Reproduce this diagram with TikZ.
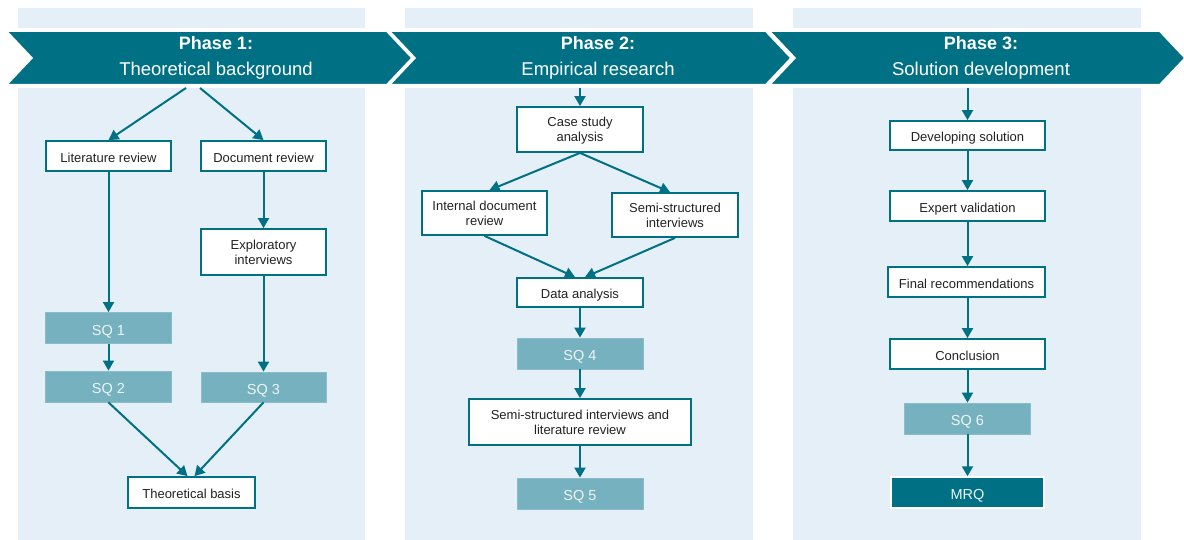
\documentclass[tikz,border=0pt]{standalone}
\usepackage{fontspec}
\setmainfont{Liberation Sans}
\usetikzlibrary{arrows.meta}

\definecolor{phaseteal}{HTML}{007084}
\definecolor{panelblue}{HTML}{E4EFF7}
\definecolor{sqfill}{HTML}{75B1BF}
\definecolor{sqtext}{HTML}{EEF5F7}
\definecolor{inktext}{HTML}{222222}

\begin{document}
\begin{tikzpicture}[x=1pt,y=-1pt,
  flow/.style={draw=phaseteal, line width=2pt, -{Triangle[length=10pt,width=11pt]}},
  stepbox/.style={draw=phaseteal, line width=1.8pt, fill=white, inner sep=0pt,
    align=center, font=\fontsize{13}{15}\selectfont, text=inktext, text depth=0pt},
  oneline/.style={text height=12.5pt, text depth=0pt},
  sqbox/.style={fill=sqfill, draw=sqfill!85!white, line width=0.8pt, inner sep=0pt,
    font=\fontsize{14.5}{17}\selectfont, text=sqtext, text height=14pt, text depth=0pt},
  mrqbox/.style={fill=phaseteal, draw=white, line width=1.5pt, inner sep=0pt,
    font=\fontsize{14.5}{17}\selectfont, text=sqtext, text height=14pt, text depth=0pt},
  chevron/.style={fill=phaseteal, draw=white, line width=3pt, line join=miter},
  headbold/.style={anchor=base, text=white, font=\fontsize{18}{20}\selectfont\bfseries},
  headreg/.style={anchor=base, text=white, font=\fontsize{18.5}{20}\selectfont},
]
\useasboundingbox (0,0) rectangle (1184,540);

% phase panels (above and below the chevron band)
\foreach \xa/\xb in {18/365, 405/753, 793/1141} {
  \fill[panelblue] (\xa,8) rectangle (\xb,28);
  \fill[panelblue] (\xa,88) rectangle (\xb,540);
}

% chevron band
\draw[chevron] (5,30.5) -- (387,30.5) -- (413,58) -- (387,85.5) -- (5,85.5) -- (31,58) -- cycle;
\draw[chevron] (388,30.5) -- (766,30.5) -- (792,58) -- (766,85.5) -- (388,85.5) -- (414,58) -- cycle;
\draw[chevron] (768,30.5) -- (1160,30.5) -- (1186,58) -- (1160,85.5) -- (768,85.5) -- (794,58) -- cycle;

\node[headbold] (h1a) at (216,50) {Phase 1:};
\node[headreg]  (h1b) at (216,76) {Theoretical background};
\node[headbold] (h2a) at (598,50) {Phase 2:};
\node[headreg]  (h2b) at (598,76) {Empirical research};
\node[headbold] (h3a) at (981,50) {Phase 3:};
\node[headreg]  (h3b) at (981,76) {Solution development};

\coordinate (p1l) at (186,88);
\coordinate (p1r) at (200,88);
\coordinate (p2) at (580,88);
\coordinate (p3) at (967.5,88);

% Phase 1
\node[stepbox, oneline, minimum width=125pt, minimum height=30pt] (lit) at (108.5,156) {Literature review};
\node[stepbox, oneline, minimum width=125pt, minimum height=30pt] (doc) at (263.5,156) {Document review};
\node[stepbox, minimum width=125pt, minimum height=46pt] (expl) at (263.5,252) {Exploratory\\interviews};
\node[sqbox, minimum width=126pt, minimum height=31pt] (sq1) at (108.5,328) {SQ 1};
\node[sqbox, minimum width=126pt, minimum height=31pt] (sq2) at (108.5,386.5) {SQ 2};
\node[sqbox, minimum width=125pt, minimum height=30pt] (sq3) at (263.5,387) {SQ 3};
\node[stepbox, oneline, minimum width=127pt, minimum height=31pt] (tb) at (191.5,492.5) {Theoretical basis};

\draw[flow] (p1l) -- (lit.north);
\draw[flow] (p1r) -- (doc.north);
\draw[flow] (lit.south) -- (sq1.north);
\draw[flow] (sq1.south) -- (sq2.north);
\draw[flow] (doc.south) -- (expl.north);
\draw[flow] (expl.south) -- (sq3.north);
\draw[flow] (sq2.south) -- ([xshift=-4pt]tb.north);
\draw[flow] (sq3.south) -- ([xshift=3pt]tb.north);

% Phase 2
\node[stepbox, minimum width=126pt, minimum height=45pt] (case) at (580,129.5) {Case study\\analysis};
\node[stepbox, minimum width=125pt, minimum height=44pt] (int) at (484.5,213) {Internal document\\review};
\node[stepbox, minimum width=126pt, minimum height=44pt] (semi) at (675,215) {Semi-structured\\interviews};
\node[stepbox, oneline, minimum width=126pt, minimum height=29pt] (data) at (580,292.5) {Data analysis};
\node[sqbox, minimum width=126pt, minimum height=31pt] (sq4) at (580,353.5) {SQ 4};
\node[stepbox, minimum width=222pt, minimum height=46pt] (slr) at (580,422) {Semi-structured interviews and\\literature review};
\node[sqbox, minimum width=126pt, minimum height=31pt] (sq5) at (580,493.5) {SQ 5};

\draw[flow] (p2) -- (case.north);
\draw[flow] (case.south) -- ([xshift=5pt]int.north);
\draw[flow] (case.south) -- ([xshift=-5pt]semi.north);
\draw[flow] (int.south) -- ([xshift=-5pt]data.north);
\draw[flow] (semi.south) -- ([xshift=5pt]data.north);
\draw[flow] (data.south) -- (sq4.north);
\draw[flow] (sq4.south) -- (slr.north);
\draw[flow] (slr.south) -- (sq5.north);

% Phase 3
\node[stepbox, oneline, minimum width=155pt, minimum height=29pt] (dev) at (967.5,135.5) {Developing solution};
\node[stepbox, oneline, minimum width=155pt, minimum height=30pt] (val) at (967.5,206) {Expert validation};
\node[stepbox, oneline, minimum width=157pt, minimum height=30pt] (fin) at (966.5,282) {Final recommendations};
\node[stepbox, oneline, minimum width=155pt, minimum height=30pt] (conc) at (967.5,354) {Conclusion};
\node[sqbox, minimum width=126pt, minimum height=31pt] (sq6) at (967.5,418.5) {SQ 6};
\node[mrqbox, minimum width=153pt, minimum height=31pt] (mrq) at (967.5,492.5) {MRQ};

\draw[flow] (p3) -- (dev.north);
\draw[flow] (dev.south) -- (val.north);
\draw[flow] (val.south) -- (fin.north -| val.south);
\draw[flow] (fin.south -| conc.north) -- (conc.north);
\draw[flow] (conc.south) -- (sq6.north);
\draw[flow] (sq6.south) -- (mrq.north);
\end{tikzpicture}
\end{document}
